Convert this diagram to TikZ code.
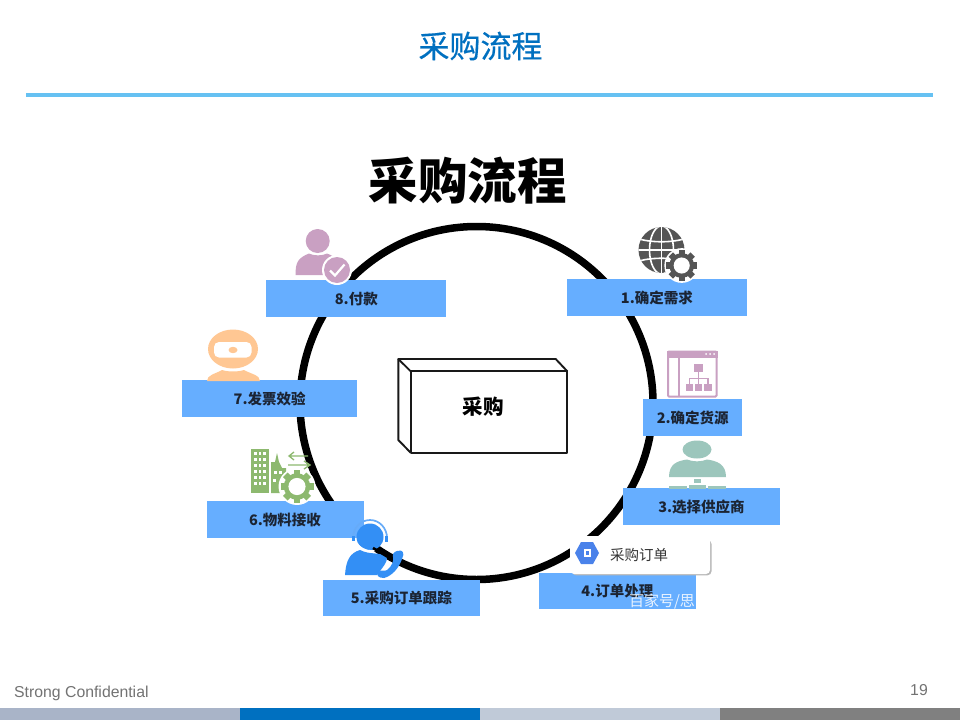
\documentclass[tikz,border=0pt]{standalone}
\usepackage{fontspec}
\setmainfont{Liberation Sans}
\newfontfamily\cjk{Noto Sans CJK SC}
\newfontfamily\cjkmed[FakeBold=0.5]{Noto Sans CJK SC}
\definecolor{rulec}{HTML}{66C1F2}
\definecolor{titlec}{HTML}{0070C0}
\definecolor{boxc}{HTML}{66AEFF}
\definecolor{inkc}{HTML}{1B2433}
\definecolor{pinkc}{HTML}{C9A0C2}
\definecolor{peachc}{HTML}{FFC793}
\definecolor{greenc}{HTML}{8DB96F}
\definecolor{tealc}{HTML}{9CC6BC}
\definecolor{bluec}{HTML}{338FF5}
\definecolor{globec}{HTML}{555555}
\definecolor{hexc}{HTML}{4A82EA}
\tikzset{
  stepbox/.style={fill=boxc,draw=none,inner sep=0pt,text=inkc,minimum height=36.5pt,font=\cjk\bfseries\fontsize{14.5}{16}\selectfont},
  cubeline/.style={draw=black!90,line width=1.9pt,line join=round},
}
\newcommand{\geargl}[4]{%
  \fill[white] (#1,#2) circle[radius=#3*1.12];
  \foreach \a in {0,45,...,315}{
    \fill[#4,shift={(#1,#2)},rotate=\a] (-#3*0.2,-#3) rectangle (#3*0.2,-#3*0.6);
  }
  \fill[#4] (#1,#2) circle[radius=#3*0.8];
  \fill[white] (#1,#2) circle[radius=#3*0.52];
}
\begin{document}
\begin{tikzpicture}[x=1pt,y=-1pt]
\useasboundingbox (0,0) rectangle (960,720);
\fill[white] (0,0) rectangle (960,720);
% header
\node[text=titlec,font=\cjkmed\fontsize{31}{33}\selectfont,inner sep=0pt] (title) at (480.5,46) {采购流程};
\coordinate (ruleL) at (26,95);
\coordinate (ruleR) at (933,95);
\draw[rulec,line width=3.5pt] (ruleL) -- (ruleR);
% big title
\node[text=black,font=\cjk\bfseries\fontsize{49.5}{52}\selectfont,inner sep=0pt] (bigtitle) at (467.5,181) {采购流程};
% ring
\draw[black,line width=7.5pt] (476.5,403) circle[radius=176.5];
% cube
\draw[cubeline,fill=white] (410.7,371.3) rectangle (567.3,452.7);
\draw[cubeline] (410.7,371.3) -- (398.3,359) -- (555.7,359) -- (567.3,371.3);
\draw[cubeline] (398.3,359) -- (398.3,440) -- (410.7,452.7);
\node[text=black,font=\cjk\bfseries\fontsize{20.5}{22}\selectfont,inner sep=0pt] (center) at (483.3,407) {采购};
% boxes
\node[stepbox,minimum width=180.5pt] (s1) at (656.9,297.7) {1.确定需求};
\node[stepbox,minimum width=99.5pt] (s2) at (692.7,417.6) {2.确定货源};
\node[stepbox,minimum width=157pt] (s3) at (701.5,506.5) {3.选择供应商};
\node[stepbox,minimum width=157pt] (s4) at (617.3,591) {4.订单处理};
\node[stepbox,minimum width=157pt] (s5) at (401.3,598) {5.采购订单跟踪};
\node[stepbox,minimum width=157pt] (s6) at (285,519.7) {6.物料接收};
\node[stepbox,minimum width=175pt] (s7) at (269.7,398.7) {7.发票效验};
\node[stepbox,minimum width=180pt] (s8) at (356.3,298.6) {8.付款};
% icon 1: globe and gear
\fill[globec] (661.5,250) circle[radius=23];
\begin{scope}
  \clip (661.5,250) circle[radius=23];
  \draw[white,line width=1.6pt] (661.5,225) -- (661.5,275);
  \draw[white,line width=1.6pt] (661.5,250) ellipse[x radius=12,y radius=24];
  \draw[white,line width=1.6pt] (636,250) -- (687,250);
  \draw[white,line width=1.6pt] (636,238) .. controls (650,243) and (673,243) .. (687,238);
  \draw[white,line width=1.6pt] (636,262) .. controls (650,257) and (673,257) .. (687,262);
\end{scope}
\geargl{681.7}{265.5}{15.5}{globec}
% icon 2: window
\fill[pinkc] (667,351) rectangle (717.5,358);
\draw[pinkc,line width=2pt,rounded corners=1pt] (668,351.5) rectangle (716.5,396.5);
\draw[pinkc,line width=2pt] (679,357) -- (679,396);
\foreach \x in {706,710,714}{\fill[white] (\x,354) circle[radius=1];}
\fill[pinkc] (694,364) rectangle (702.5,372);
\draw[pinkc,line width=1.2pt] (698.2,372) -- (698.2,384) (689.5,384) -- (689.5,378.5) -- (708,378.5) -- (708,384);
\fill[pinkc] (685.5,384) rectangle (693,391);
\fill[pinkc] (695,384) rectangle (702,391);
\fill[pinkc] (704,384) rectangle (711.5,391);
% icon 3: person at desk
\fill[tealc] (697,449.5) ellipse[x radius=14.5,y radius=9];
\fill[tealc] (669,477) .. controls (669,464) and (677,461) .. (687,459.5) .. controls (693,462) and (701,462) .. (707,459.5) .. controls (717,461) and (726,464) .. (726,477) -- cycle;
\fill[tealc] (694,479) rectangle (700.5,483);
\fill[tealc] (669,486) rectangle (687,488.5);
\fill[tealc] (689,484.5) rectangle (706,488.5);
\fill[tealc] (708,486) rectangle (726,488.5);
% icon 4: card
\fill[black!28,rounded corners=4pt] (572,540) rectangle (711.5,575.3);
\fill[white,rounded corners=4pt] (570,536) rectangle (710,574);
\fill[hexc] (599,553) -- (593,564) -- (581,564) -- (575,553) -- (581,542) -- (593,542) -- cycle;
\fill[white] (583.5,549) rectangle (590.5,557);
\fill[hexc] (585.5,551) rectangle (588.5,555);
\node[text=black!80,font=\cjk\fontsize{14.5}{16}\selectfont,inner sep=0pt] (card) at (639,555) {采购订单};
\node[text=white,opacity=0.85,font=\cjk\fontsize{15}{16}\selectfont,inner sep=0pt] (mark) at (662,601) {百家号/思};
% icon 5: agent
\fill[bluec] (345,575) .. controls (346,560) and (350,553) .. (360,550) .. controls (370,555) and (378,552) .. (387,556) .. controls (388,562) and (382,568) .. (377,575) -- cycle;
\fill[bluec] (370,537) circle[radius=13.5];
\draw[white,line width=1.4pt] (358,545) .. controls (364,551) and (372,552) .. (377,550);
\draw[bluec!75,line width=1.7pt] (353,538) arc[start angle=180,end angle=360,x radius=17,y radius=18];
\draw[bluec,line width=2.4pt] (353.5,536) -- (353.5,541);
\draw[bluec,line width=2.4pt] (386.5,536) -- (386.5,542);
\draw[black,line width=2.6pt] (373,548) -- (393,560);
\fill[bluec] (397,551) .. controls (403,549) and (405,553) .. (402,559) .. controls (399,568) and (392,576) .. (384,578) .. controls (378,578) and (376,575) .. (378,572) .. controls (381,569) and (384,572) .. (387,570) .. controls (392,566) and (394,561) .. (393,557) .. controls (392,554) and (394,552) .. (397,551) -- cycle;
% icon 6: buildings
\fill[greenc] (251,449) rectangle (269,493);
\fill[greenc] (271,493) -- (271,462) -- (275,462) -- (277,453) -- (279,462) -- (282,468) -- (286,468) -- (286,493) -- cycle;
\foreach \y in {452,458,464,470,476,482}{
  \foreach \x in {254,258.5,263}{\fill[white] (\x,\y) rectangle ++(2.8,2.8);}
}
\fill[white] (274,471) rectangle ++(3,3);
\fill[white] (279,471) rectangle ++(3,3);
\fill[white] (273,479) rectangle ++(3,3);
\geargl{297}{486.5}{16.5}{greenc}
\draw[greenc,line width=1.3pt] (290,456) -- (308,456) (294,452) -- (289,456) -- (294,460);
\draw[greenc,line width=1.3pt] (288,465) -- (309,465) (304,461) -- (310,465) -- (304,469);
% icon 7: peach head
\fill[peachc] (233,349) ellipse[x radius=25,y radius=19.5];
\fill[white,rounded corners=5pt] (214,342) rectangle (251.5,357.5);
\fill[peachc] (233,350) ellipse[x radius=4.5,y radius=3.2];
\fill[peachc] (207,381) .. controls (207,375) and (215,374) .. (222,370) .. controls (228,372) and (238,372) .. (244,370) .. controls (251,374) and (260,375) .. (260,381) -- cycle;
% icon 8: person
\fill[pinkc] (317.7,241) circle[radius=12];
\fill[pinkc] (295.5,275) .. controls (295.5,262) and (298,258) .. (309,253.5) .. controls (314,256) and (322,256) .. (327,253.5) .. controls (331,255) and (335,257) .. (337,260) -- (326,275) -- cycle;
\fill[white] (337,270) circle[radius=15];
\fill[pinkc] (337,270) circle[radius=13];
\draw[white,line width=2.2pt] (330,270.5) -- (335,275.5) -- (344.5,264.5);
% footer
\node[text=black!55,font=\fontsize{15.8}{18}\selectfont,inner sep=0pt,anchor=west] (conf) at (14,693.5) {Strong Confidential};
\node[text=black!55,font=\fontsize{15.8}{18}\selectfont,inner sep=0pt] (page) at (919,690) {19};
\fill[fill={rgb,255:red,169;green,180;blue,200}] (0,708) rectangle (240,720);
\fill[fill=titlec] (240,708) rectangle (480,720);
\fill[fill={rgb,255:red,192;green,202;blue,216}] (480,708) rectangle (720,720);
\fill[fill=black!50] (720,708) rectangle (960,720);
\end{tikzpicture}
\end{document}
